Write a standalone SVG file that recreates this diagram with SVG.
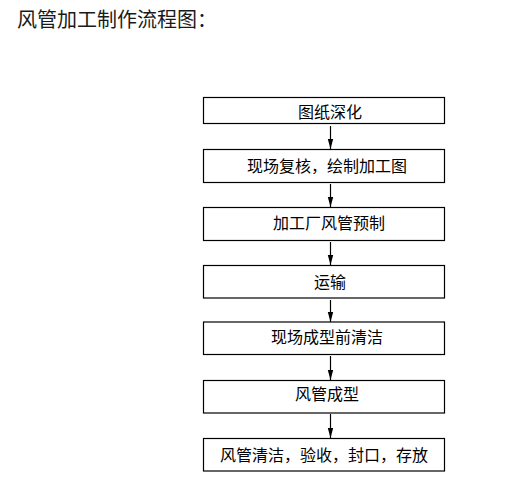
<svg xmlns="http://www.w3.org/2000/svg" width="525" height="479" viewBox="0 0 525 479">
<style>
.box{fill:#fff;stroke:#000;stroke-width:1.2}
.lbl{font-family:"Noto Sans CJK SC","Liberation Sans",sans-serif;font-size:16px;fill:#000;text-anchor:middle}
.title{font-family:"Noto Sans CJK SC","Liberation Sans",sans-serif;font-size:20px;fill:#1a1a1a}
.con{stroke:#000;stroke-width:1.2;fill:none;marker-end:url(#ah)}
</style>
<defs>
<marker id="ah" markerUnits="userSpaceOnUse" markerWidth="12" markerHeight="8" refX="10" refY="3" orient="auto" viewBox="0 0 12 6">
<path d="M0,0.3 L10,3 L0,5.7 Z" fill="#000"/>
</marker>
</defs>
<rect width="525" height="479" fill="#fff"/>
<text class="title" x="17" y="27">风管加工制作流程图：</text>
<g id="connectors">
<line class="con" x1="330.5" y1="126" x2="330.5" y2="149"/>
<line class="con" x1="330.5" y1="184" x2="330.5" y2="207"/>
<line class="con" x1="330.5" y1="242" x2="330.5" y2="265"/>
<line class="con" x1="330.5" y1="300" x2="330.5" y2="322"/>
<line class="con" x1="330.5" y1="356" x2="330.5" y2="380"/>
<line class="con" x1="330.5" y1="414" x2="330.5" y2="438"/>
</g>
<g id="n1"><rect class="box" x="203.5" y="97.5" width="241" height="26"/><text class="lbl" x="330" y="117.5">图纸深化</text></g>
<g id="n2"><rect class="box" x="203.5" y="149.5" width="241" height="33"/><text class="lbl" x="327" y="171.5">现场复核，绘制加工图</text></g>
<g id="n3"><rect class="box" x="203.5" y="207.5" width="241" height="33"/><text class="lbl" x="329" y="228.5">加工厂风管预制</text></g>
<g id="n4"><rect class="box" x="203.5" y="265.5" width="241" height="32.5"/><text class="lbl" x="330" y="288">运输</text></g>
<g id="n5"><rect class="box" x="203.5" y="322" width="241" height="32.5"/><text class="lbl" x="327" y="343">现场成型前清洁</text></g>
<g id="n6"><rect class="box" x="203.5" y="380.5" width="241" height="32.5"/><text class="lbl" x="327" y="400">风管成型</text></g>
<g id="n7"><rect class="box" x="203.5" y="438.5" width="241" height="32.5"/><text class="lbl" x="324" y="461">风管清洁，验收，封口，存放</text></g>
</svg>
